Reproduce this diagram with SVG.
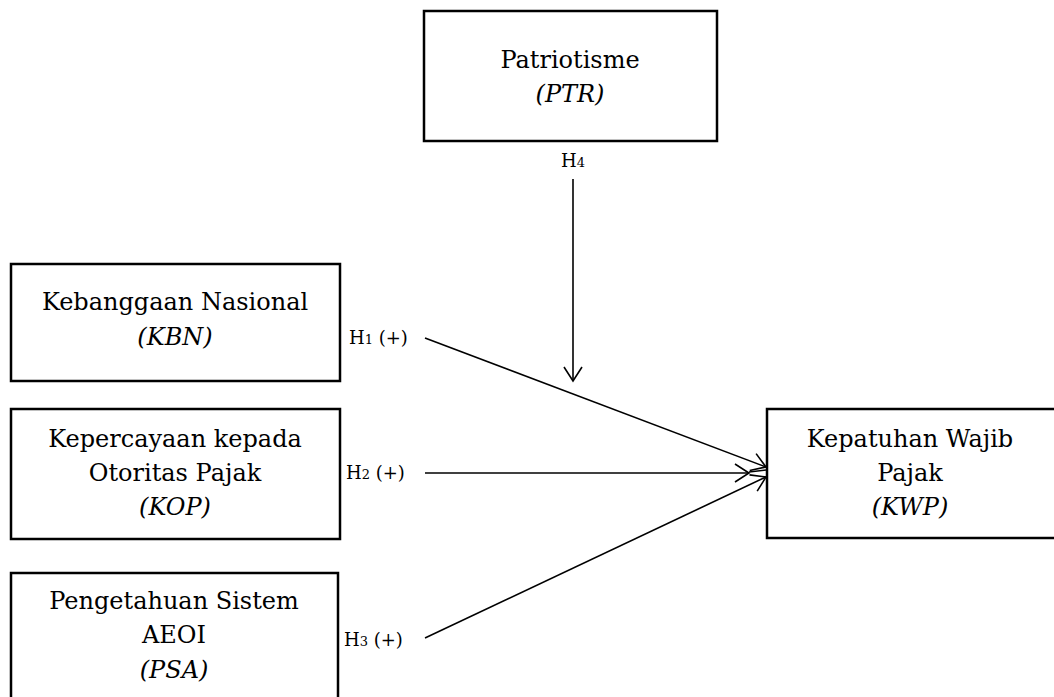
<svg xmlns="http://www.w3.org/2000/svg" width="1054" height="697" viewBox="0 0 1054 697">
<style>
.box{fill:#fff;stroke:#000;stroke-width:2.5}
.t{font-family:"DejaVu Serif","Liberation Serif",serif;font-size:24px;fill:#000;text-anchor:middle}
.i{font-style:italic}
.lbl{font-family:"DejaVu Serif","Liberation Serif",serif;font-size:18px;fill:#000}
.sub{font-size:13px}
.ln{stroke:#000;stroke-width:1.6;fill:none}
</style>
<defs>
<marker id="ah" markerUnits="userSpaceOnUse" markerWidth="18" markerHeight="20" refX="15" refY="10" orient="auto">
<path d="M1,1 L15,10 L1,19" fill="none" stroke="#000" stroke-width="1.6"/>
</marker>
</defs>
<g id="PTR">
<rect class="box" x="424" y="11" width="293" height="130"/>
<text class="t" x="570" y="68">Patriotisme</text>
<text class="t i" x="570" y="102">(PTR)</text>
</g>
<g id="KBN">
<rect class="box" x="11" y="264" width="329" height="117"/>
<text class="t" x="175" y="310">Kebanggaan Nasional</text>
<text class="t i" x="175" y="345">(KBN)</text>
</g>
<g id="KOP">
<rect class="box" x="11" y="409" width="329" height="130"/>
<text class="t" x="175" y="447">Kepercayaan kepada</text>
<text class="t" x="175" y="481">Otoritas Pajak</text>
<text class="t i" x="175" y="515">(KOP)</text>
</g>
<g id="PSA">
<rect class="box" x="11" y="573" width="327" height="140"/>
<text class="t" x="174" y="609">Pengetahuan Sistem</text>
<text class="t" x="174" y="643">AEOI</text>
<text class="t i" x="174" y="678">(PSA)</text>
</g>
<g id="KWP">
<rect class="box" x="767" y="409" width="300" height="129"/>
<text class="t" x="910" y="447">Kepatuhan Wajib</text>
<text class="t" x="910" y="481">Pajak</text>
<text class="t i" x="910" y="515">(KWP)</text>
</g>
<g id="connectors">
<line class="ln" x1="425" y1="338" x2="766" y2="467" marker-end="url(#ah)"/>
<line class="ln" x1="425" y1="473" x2="749" y2="473" marker-end="url(#ah)"/>
<line class="ln" x1="749" y1="472" x2="766" y2="470"/>
<line class="ln" x1="425" y1="638" x2="766" y2="477" marker-end="url(#ah)"/>
<line class="ln" x1="573" y1="179" x2="573" y2="381" marker-end="url(#ah)"/>
</g>
<g id="labels">
<text class="lbl" x="349" y="344">H<tspan class="sub">1</tspan> (+)</text>
<text class="lbl" x="346" y="479">H<tspan class="sub">2</tspan> (+)</text>
<text class="lbl" x="344" y="646">H<tspan class="sub">3</tspan> (+)</text>
<text class="lbl" x="573" y="167" text-anchor="middle">H<tspan class="sub">4</tspan></text>
</g>
</svg>
